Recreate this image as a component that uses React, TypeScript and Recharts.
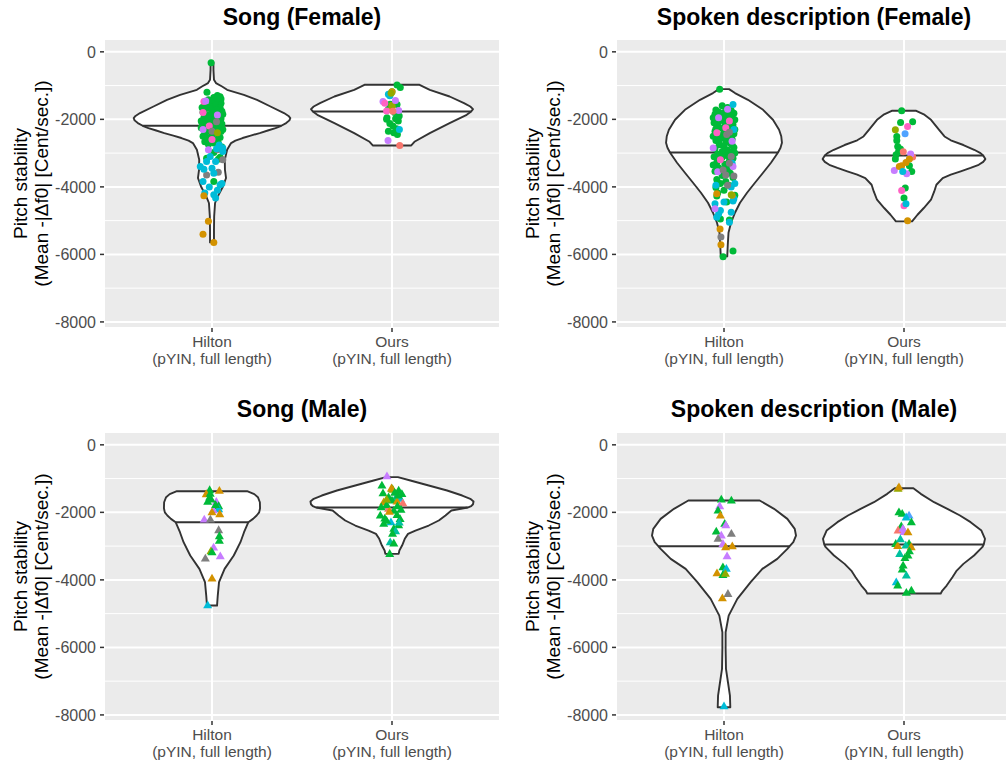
import React from "react";
import { ComposedChart, Area, Line, Scatter, XAxis, YAxis, CartesianGrid } from "recharts";

// ---------- axes / categories ----------
const CATEGORIES = ["Hilton", "Ours"];
const CATEGORY_NOTE = "(pYIN, full length)";
const CATEGORY_POS = [1, 2];
const Y_TICKS = [0, -2000, -4000, -6000, -8000];
const Y_MINOR = [-1000, -3000, -5000, -7000];
const Y_DOMAIN: [number, number] = [-8180, 380];
const X_DOMAIN: [number, number] = [0.4, 2.6];
const PANEL_TITLES = ["Song (Female)", "Spoken description (Female)", "Song (Male)", "Spoken description (Male)"];
const Y_TITLE_1 = "Pitch stability";
const Y_TITLE_2 = "(Mean -|\u0394f0| [Cent/sec.])";

// colour groups (ggplot hue palette + grey)
const PALETTE = ["#F8766D", "#D39200", "#93AA00", "#00BA38", "#00C19F", "#00BCD8", "#4FA3FF", "#C77CFF", "#FF61C3", "#7F7F7F"];

// ---------- violin outlines: [value, half width] ----------
const songFemaleHiltonViolin: [number, number][] = [
  [-317, 0.008], [-533, 0.008], [-829, 0.011], [-926, 0.022], [-1027, 0.056], [-1125, 0.084], [-1273, 0.177],
  [-1421, 0.25], [-1619, 0.325], [-1814, 0.4], [-1900, 0.425], [-1962, 0.435], [-2030, 0.43], [-2110, 0.412],
  [-2190, 0.385], [-2258, 0.353], [-2330, 0.31], [-2406, 0.265], [-2480, 0.215], [-2553, 0.17], [-2630, 0.13],
  [-2702, 0.106], [-2901, 0.084], [-3197, 0.071], [-3493, 0.072], [-3738, 0.078], [-3987, 0.061], [-4283, 0.032],
  [-4478, 0.017], [-4875, 0.012], [-5269, 0.011], [-5645, 0.011],
];
const songFemaleOursViolin: [number, number][] = [
  [-977, 0.153], [-1125, 0.21], [-1323, 0.32], [-1518, 0.4], [-1620, 0.435], [-1696, 0.45], [-1767, 0.44],
  [-1865, 0.415], [-2110, 0.32], [-2406, 0.21], [-2655, 0.127], [-2774, 0.107],
];
const spokenFemaleHiltonViolin: [number, number][] = [
  [-1104, 0.028], [-1222, 0.061], [-1421, 0.133], [-1717, 0.217], [-2013, 0.272], [-2309, 0.306], [-2500, 0.318],
  [-2694, 0.322], [-2840, 0.314], [-2981, 0.3], [-3286, 0.261], [-3582, 0.217], [-3878, 0.172], [-4174, 0.128],
  [-4470, 0.089], [-4766, 0.061], [-5062, 0.039], [-5358, 0.025], [-5713, 0.021], [-6059, 0.018],
];
const spokenFemaleOursViolin: [number, number][] = [
  [-1746, 0.068], [-1850, 0.11], [-2013, 0.15], [-2309, 0.195], [-2507, 0.225], [-2620, 0.26], [-2760, 0.33],
  [-2901, 0.39], [-3000, 0.425], [-3069, 0.44], [-3176, 0.452], [-3260, 0.44], [-3345, 0.415], [-3440, 0.37],
  [-3543, 0.315], [-3640, 0.26], [-3738, 0.215], [-3937, 0.18], [-4135, 0.168], [-4381, 0.15], [-4626, 0.11],
  [-4825, 0.075], [-5023, 0.045],
];
const songMaleHiltonViolin: [number, number][] = [
  [-1373, 0.195], [-1460, 0.235], [-1551, 0.255], [-1700, 0.266], [-1877, 0.267], [-2000, 0.262], [-2094, 0.248],
  [-2193, 0.228], [-2291, 0.202], [-2588, 0.178], [-2884, 0.158], [-3279, 0.121], [-3674, 0.07], [-4069, 0.039],
  [-4464, 0.032], [-4761, 0.028],
];
const songMaleOursViolin: [number, number][] = [
  [-958, 0.033], [-1057, 0.102], [-1205, 0.204], [-1353, 0.306], [-1501, 0.39], [-1600, 0.435], [-1679, 0.453],
  [-1760, 0.45], [-1817, 0.44], [-1857, 0.42], [-1946, 0.33], [-2094, 0.297], [-2242, 0.26], [-2390, 0.204],
  [-2538, 0.13], [-2637, 0.089], [-2785, 0.071], [-2983, 0.056], [-3131, 0.041], [-3230, 0.037],
];
const spokenMaleHiltonViolin: [number, number][] = [
  [-1649, 0.198], [-1896, 0.278], [-2193, 0.352], [-2489, 0.393], [-2687, 0.4], [-2884, 0.385], [-3003, 0.365],
  [-3082, 0.352], [-3378, 0.296], [-3674, 0.213], [-4069, 0.148], [-4563, 0.074], [-5057, 0.026], [-5551, 0.009],
  [-6045, 0.009], [-6637, 0.011], [-7032, 0.022], [-7428, 0.033], [-7773, 0.035],
];
const spokenMaleOursViolin: [number, number][] = [
  [-1284, 0.052], [-1452, 0.093], [-1699, 0.167], [-1896, 0.241], [-2094, 0.311], [-2291, 0.37], [-2538, 0.43],
  [-2785, 0.45], [-2953, 0.443], [-3032, 0.435], [-3279, 0.389], [-3526, 0.33], [-3724, 0.293], [-3921, 0.269],
  [-4168, 0.237], [-4316, 0.213], [-4405, 0.204],
];

// ---------- medians: [value, half width] ----------
const songFemaleMedians: [number, number][] = [[-2190, 0.385], [-1767, 0.44]];
const spokenFemaleMedians: [number, number][] = [[-2981, 0.3], [-3069, 0.44]];
const songMaleMedians: [number, number][] = [[-2291, 0.202], [-1857, 0.42]];
const spokenMaleMedians: [number, number][] = [[-3003, 0.365], [-2953, 0.443]];

// ---------- points: [jitter, value, colour group] ----------
const songFemaleHiltonPoints: [number, number, number][] = [
  [-0.005, -320, 3], [-0.028, -1200, 3], [0.03, -1290, 3], [0.045, -1330, 3], [0.01, -1350, 3], [0.05, -1400, 3],
  [-0.02, -1420, 3], [0.035, -1460, 3], [0.0, -1480, 3], [0.05, -1520, 3], [-0.04, -1550, 3], [0.02, -1580, 3],
  [-0.01, -1620, 3], [0.045, -1650, 3], [-0.03, -1680, 3], [0.025, -1720, 3], [0.055, -1760, 3], [-0.05, -1790, 3],
  [0.005, -1820, 3], [0.04, -1860, 3], [-0.02, -1880, 3], [0.015, -1920, 3], [-0.045, -1950, 3], [0.05, -1980, 3],
  [0.0, -2010, 3], [-0.03, -2050, 3], [0.03, -2080, 3], [-0.055, -2110, 3], [0.055, -2140, 3], [0.01, -2170, 3],
  [-0.02, -2200, 3], [0.04, -2230, 3], [-0.045, -2260, 3], [0.02, -2290, 3], [-0.01, -2330, 3], [0.05, -2360, 3],
  [-0.035, -2400, 3], [0.03, -2430, 3], [0.0, -2470, 3], [-0.05, -2500, 3], [0.045, -2540, 3], [-0.015, -2580, 3],
  [0.02, -2620, 3], [-0.04, -2660, 3], [0.035, -2700, 3], [-0.02, -2740, 3], [0.055, -2820, 3], [0.01, -2980, 3],
  [0.045, -3120, 3], [0.035, -3180, 3], [0.01, -3840, 3], [-0.03, -3150, 3], [-0.06, -2050, 3], [-0.06, -2250, 3],
  [-0.055, -1650, 3], [0.06, -1850, 3], [0.06, -2300, 3], [-0.005, -1700, 3], [0.015, -2380, 3], [-0.025, -2550, 3],
  [0.03, -1380, 3], [-0.01, -1900, 3], [0.025, -2020, 3], [-0.04, -2350, 3], [0.01, -2700, 3],
  [-0.045, -1470, 8], [-0.05, -1800, 8], [-0.015, -2200, 8], [0.0, -2600, 8],
  [-0.035, -1460, 7], [-0.05, -2300, 7], [-0.02, -2900, 7], [0.03, -1870, 7],
  [0.025, -2070, 9], [0.0, -2350, 9], [0.03, -2900, 9], [-0.03, -3650, 9], [0.035, -3570, 9], [0.06, -3200, 9],
  [0.04, -2760, 5], [0.025, -2870, 5], [0.06, -2950, 5], [-0.01, -3100, 5], [0.02, -3250, 5], [-0.03, -3250, 5],
  [-0.065, -3400, 5], [-0.045, -3480, 5], [0.0, -3450, 5], [0.01, -3600, 5], [-0.05, -3840, 5], [0.045, -3940, 5],
  [0.055, -3900, 5], [-0.04, -4180, 5], [0.01, -4230, 5], [0.02, -4330, 5], [-0.015, -4000, 5], [0.03, -4100, 5],
  [0.06, -2850, 5],
  [-0.045, -4260, 1], [-0.02, -5020, 1], [-0.05, -5400, 1], [0.01, -5645, 1],
  [0.03, -2400, 2],
];
const songFemaleOursPoints: [number, number, number][] = [
  [0.028, -980, 3], [0.046, -1060, 3], [0.0, -1180, 3], [-0.01, -1550, 3], [0.028, -1560, 3], [-0.02, -1700, 3],
  [0.015, -1800, 3], [-0.028, -1950, 3], [0.02, -1980, 3], [0.035, -2050, 3], [-0.012, -2120, 3], [0.005, -2200, 3],
  [0.025, -2280, 3], [-0.02, -2350, 3], [0.01, -2400, 3], [0.03, -2450, 3], [-0.03, -2000, 3], [0.04, -1900, 3],
  [-0.02, -1260, 5], [-0.012, -1300, 5], [0.041, -2300, 5],
  [0.0, -1180, 1], [0.0, -1650, 1],
  [-0.005, -1230, 2], [0.0, -1580, 2],
  [-0.05, -1470, 7], [0.019, -1440, 7], [0.037, -1740, 7], [-0.022, -2630, 7],
  [-0.03, -1750, 8], [-0.04, -1520, 8],
  [0.043, -2775, 0], [0.005, -1760, 0],
];
const spokenFemaleHiltonPoints: [number, number, number][] = [
  [-0.024, -1110, 3], [-0.01, -1600, 3], [0.02, -1650, 3], [-0.045, -1720, 3], [0.04, -1740, 3], [-0.03, -1780, 3],
  [0.0, -1800, 3], [0.055, -1820, 3], [-0.05, -1850, 3], [0.025, -1880, 3], [-0.015, -1900, 3], [0.045, -1930, 3],
  [-0.04, -1960, 3], [0.01, -1990, 3], [0.06, -2010, 3], [-0.025, -2040, 3], [0.03, -2070, 3], [-0.055, -2100, 3],
  [0.005, -2130, 3], [0.05, -2160, 3], [-0.035, -2190, 3], [0.02, -2220, 3], [-0.01, -2260, 3], [0.04, -2300, 3],
  [-0.05, -2350, 3], [0.0, -2390, 3], [0.055, -2430, 3], [-0.03, -2470, 3], [0.025, -2510, 3], [-0.015, -2550, 3],
  [0.045, -2590, 3], [-0.045, -2630, 3], [0.01, -2670, 3], [0.035, -2710, 3], [-0.025, -2750, 3], [0.0, -2790, 3],
  [0.055, -2830, 3], [-0.05, -2870, 3], [0.02, -2910, 3], [-0.01, -2950, 3], [0.04, -2990, 3], [-0.035, -3030, 3],
  [0.015, -3070, 3], [-0.055, -3110, 3], [0.05, -3150, 3], [-0.02, -3190, 3], [0.03, -3230, 3], [-0.04, -3280, 3],
  [0.005, -3330, 3], [0.045, -3380, 3], [-0.03, -3430, 3], [0.02, -3480, 3], [-0.05, -3540, 3], [0.035, -3600, 3],
  [-0.01, -3660, 3], [0.05, -3720, 3], [-0.04, -3780, 3], [0.01, -3840, 3], [-0.02, -3900, 3], [0.03, -3960, 3],
  [-0.045, -4020, 3], [0.0, -4100, 3], [-0.035, -4180, 3], [-0.04, -4270, 3], [0.015, -4450, 3], [0.06, -4250, 3],
  [-0.02, -4950, 3], [0.03, -4980, 3], [0.05, -5900, 3], [-0.005, -6070, 3], [-0.06, -2500, 3], [0.06, -3000, 3],
  [-0.06, -1950, 3], [0.06, -2300, 3], [-0.06, -3350, 3], [0.02, -1760, 3], [-0.02, -2000, 3], [0.035, -2120, 3],
  [-0.045, -2280, 3], [0.015, -2560, 3], [-0.03, -2680, 3], [0.045, -2760, 3], [-0.01, -3120, 3], [0.025, -3390, 3],
  [0.05, -1560, 5], [0.055, -2300, 5], [0.045, -3300, 5], [0.06, -3900, 5], [-0.045, -3950, 5], [0.04, -4000, 5],
  [-0.05, -4500, 5], [0.055, -4350, 5], [0.05, -4420, 5], [-0.02, -4700, 5], [0.04, -4750, 5], [-0.04, -4900, 5],
  [0.03, -5050, 5], [0.0, -4450, 5], [-0.03, -4800, 5],
  [-0.03, -1950, 7], [0.045, -2650, 7], [-0.06, -2850, 7], [-0.035, -3550, 7], [0.05, -3400, 7], [-0.05, -4650, 7],
  [0.02, -1700, 7],
  [-0.04, -2400, 8], [0.01, -2250, 8], [-0.02, -3200, 8], [0.03, -2050, 8],
  [0.015, -2450, 9], [0.03, -2380, 9], [0.04, -3100, 9], [-0.005, -3500, 9], [0.01, -3650, 9], [0.055, -3680, 9],
  [0.02, -3950, 9], [-0.017, -5485, 9], [0.03, -3300, 9],
  [0.045, -4250, 1], [-0.022, -5248, 1], [-0.017, -5713, 1], [-0.04, -4200, 1],
  [0.04, -4230, 2],
];
const spokenFemaleOursPoints: [number, number, number][] = [
  [-0.013, -1746, 3], [-0.019, -2092, 3], [0.048, -2072, 3], [-0.04, -2506, 3], [-0.04, -2625, 3], [-0.035, -2803, 3],
  [-0.03, -2950, 3], [-0.044, -3049, 3], [-0.048, -3177, 3], [0.03, -3374, 3], [0.043, -3543, 3], [0.007, -4036, 3],
  [0.0, -4331, 3], [-0.02, -2880, 3],
  [0.02, -2210, 8], [-0.013, -4106, 8], [0.0, -4558, 8],
  [-0.048, -2309, 2],
  [0.006, -2427, 6],
  [-0.004, -2960, 0], [0.048, -3118, 0],
  [0.037, -3029, 7], [-0.054, -3513, 7], [0.015, -3611, 7],
  [0.03, -3177, 1], [0.011, -3275, 1], [-0.013, -3374, 1], [-0.026, -3400, 1], [0.02, -5002, 1],
  [-0.007, -3543, 5], [0.011, -4500, 5],
];
const songMaleHiltonPoints: [number, number, number][] = [
  [-0.013, -1342, 3], [0.041, -1363, 1], [-0.032, -1461, 1], [-0.013, -1560, 3], [-0.024, -1689, 3], [0.024, -1689, 7],
  [-0.005, -1620, 3], [0.037, -1816, 3], [0.037, -1905, 5], [0.007, -1935, 7], [0.043, -2053, 1], [0.0, -2000, 1],
  [-0.043, -2211, 7], [-0.009, -2211, 9], [0.037, -2527, 9], [0.041, -2705, 3], [0.041, -2844, 3], [0.009, -3040, 7],
  [-0.006, -3150, 2], [0.0, -3180, 3], [-0.037, -3366, 9], [0.046, -3298, 7], [0.0, -3959, 1], [-0.024, -4750, 5],
  [0.02, -1780, 3], [-0.01, -1450, 3],
];
const songMaleOursPoints: [number, number, number][] = [
  [-0.028, -930, 7], [-0.056, -1205, 3], [0.0, -1304, 3], [0.005, -1330, 2], [-0.003, -1290, 1], [0.037, -1353, 3],
  [-0.05, -1432, 3], [-0.019, -1551, 3], [0.02, -1580, 4], [0.046, -1600, 5], [-0.046, -1700, 1], [0.0, -1650, 3],
  [0.028, -1680, 1], [0.06, -1730, 0], [-0.019, -1896, 0], [-0.06, -1850, 3], [-0.03, -1780, 3], [0.03, -1820, 3],
  [0.01, -1950, 3], [0.05, -1920, 3], [-0.065, -2094, 3], [0.028, -2080, 3], [-0.04, -2180, 3], [0.045, -2200, 3],
  [-0.006, -2291, 5], [-0.046, -2340, 3], [0.037, -2380, 3], [0.01, -2489, 3], [0.02, -2560, 4], [0.003, -2637, 3],
  [-0.01, -2884, 4], [0.01, -2920, 3], [-0.013, -3230, 3], [0.035, -1500, 3], [-0.03, -1620, 2], [0.015, -1420, 3],
  [0.055, -1460, 3], [-0.015, -1980, 1], [0.04, -2300, 4], [-0.03, -2250, 3],
];
const spokenMaleHiltonPoints: [number, number, number][] = [
  [-0.015, -1620, 3], [0.041, -1649, 3], [-0.024, -1817, 7], [-0.033, -1946, 3], [-0.02, -2094, 1], [0.004, -2341, 3],
  [0.01, -2380, 7], [-0.043, -2568, 3], [-0.015, -2687, 7], [-0.033, -2785, 9], [-0.006, -2934, 7], [0.041, -2637, 9],
  [0.009, -3032, 1], [0.046, -3003, 1], [0.017, -3299, 7], [-0.006, -3625, 3], [0.013, -3674, 5], [-0.039, -3803, 1],
  [-0.006, -3852, 3], [0.008, -3820, 2], [0.022, -4415, 9], [-0.009, -4543, 1], [0.0, -7744, 5],
];
const spokenMaleOursPoints: [number, number, number][] = [
  [-0.033, -1304, 2], [-0.028, -1260, 1], [-0.028, -1995, 3], [-0.01, -2040, 3], [0.028, -2094, 6], [0.012, -2150, 5],
  [0.041, -2291, 3], [-0.015, -2410, 3], [-0.033, -2538, 0], [-0.006, -2489, 7], [0.0, -2580, 7], [0.022, -2588, 1],
  [-0.046, -2934, 3], [-0.035, -3000, 1], [0.028, -2934, 3], [0.01, -2980, 4], [0.04, -3030, 1], [-0.024, -3230, 4],
  [0.022, -3279, 3], [0.005, -3350, 3], [-0.005, -3575, 3], [-0.01, -3694, 3], [0.013, -3872, 4], [-0.043, -4069, 5],
  [-0.035, -4168, 3], [0.013, -4385, 3], [0.041, -4316, 3], [0.03, -3150, 3], [-0.02, -2800, 4],
];

// ---------- builders ----------
function violinRows(center: number, outline: [number, number][]) {
  const top = outline[0][0];
  const bottom = outline[outline.length - 1][0];
  return [
    { y: top, r: [center, center] },
    ...outline.map(([v, w]) => ({ y: v, r: [center - w, center + w] })),
    { y: bottom, r: [center, center] },
  ];
}
function medianRows(center: number, m: [number, number]) {
  return [
    { x: center - m[1], y: m[0] },
    { x: center + m[1], y: m[0] },
  ];
}
function pointRows(center: number, pts: [number, number, number][]) {
  return pts.map(([j, v, c]) => ({ x: center + j, y: v, c }));
}

const XTick = (props: any) => {
  const { x, y, payload } = props;
  const label = CATEGORIES[CATEGORY_POS.indexOf(payload.value)];
  return (
    <g>
      <text x={x} y={y + 15} textAnchor="middle" fill="#4D4D4D" fontSize={15.5}>{label}</text>
      <text x={x} y={y + 32} textAnchor="middle" fill="#4D4D4D" fontSize={15.5}>{CATEGORY_NOTE}</text>
    </g>
  );
};

const YTick = (props: any) => {
  const { x, y, payload } = props;
  return (
    <text x={x} y={y} dy="0.36em" textAnchor="end" fill="#4D4D4D" fontSize={16}>
      {String(payload.value)}
    </text>
  );
};

const Dot = (props: any) => {
  const { cx, cy, payload } = props;
  if (cx == null || cy == null) return null;
  return <circle cx={cx} cy={cy} r={3.5} fill={PALETTE[payload.c]} />;
};
const Tri = (props: any) => {
  const { cx, cy, payload } = props;
  if (cx == null || cy == null) return null;
  return (
    <polygon
      points={`${cx},${cy - 4.8} ${cx + 4.5},${cy + 3} ${cx - 4.5},${cy + 3}`}
      fill={PALETTE[payload.c]}
    />
  );
};

type PanelProps = {
  left: number;
  top: number;
  width: number;
  height: number;
  marginTop: number;
  xAxisHeight: number;
  marginBottom: number;
  yAxisWidth: number;
  titleBaseline: number;
  title: string;
  violins: [number, number][][];
  medians: [number, number][];
  points: [number, number, number][][];
  triangle: boolean;
};

function Panel(p: PanelProps) {
  const plotTop = p.marginTop;
  const plotBottom = p.height - p.marginBottom - p.xAxisHeight;
  const plotCenterY = (plotTop + plotBottom) / 2;
  const plotCenterX = (p.yAxisWidth + p.width) / 2;
  return (
    <div style={{ position: "absolute", left: p.left, top: p.top, width: p.width, height: p.height }}>
      <ComposedChart
        layout="vertical"
        width={p.width}
        height={p.height}
        margin={{ top: p.marginTop, right: 0, bottom: p.marginBottom, left: 0 }}
      >
        <CartesianGrid
          fill="#EBEBEB"
          fillOpacity={1}
          stroke="#FFFFFF"
          strokeWidth={1}
          vertical={false}
          horizontalValues={Y_MINOR}
        />
        <CartesianGrid stroke="#FFFFFF" strokeWidth={2} />
        <XAxis
          type="number"
          dataKey="x"
          domain={X_DOMAIN}
          ticks={CATEGORY_POS}
          allowDataOverflow
          axisLine={false}
          tickSize={4}
          tickMargin={0}
          tickLine={{ stroke: "#333333", strokeWidth: 1.5 }}
          tick={<XTick />}
          height={p.xAxisHeight}
          interval={0}
        />
        <YAxis
          type="number"
          dataKey="y"
          domain={Y_DOMAIN}
          ticks={Y_TICKS}
          reversed
          allowDataOverflow
          axisLine={false}
          tickSize={4}
          tickMargin={4}
          width={p.yAxisWidth}
          tick={<YTick />}
          tickLine={{ stroke: "#333333", strokeWidth: 1.5 }}
          interval={0}
        />
        {p.violins.map((v, i) => (
          <Area
            key={"v" + i}
            data={violinRows(CATEGORY_POS[i], v)}
            dataKey="r"
            type="linear"
            stroke="#333333"
            strokeWidth={1.9}
            strokeLinejoin="round"
            fill="#FFFFFF"
            fillOpacity={1}
            dot={false}
            activeDot={false}
            isAnimationActive={false}
          />
        ))}
        {p.medians.map((m, i) => (
          <Line
            key={"m" + i}
            data={medianRows(CATEGORY_POS[i], m)}
            dataKey="x"
            type="linear"
            stroke="#333333"
            strokeWidth={1.9}
            dot={false}
            activeDot={false}
            isAnimationActive={false}
          />
        ))}
        {p.points.map((pts, i) => (
          <Scatter
            key={"p" + i}
            data={pointRows(CATEGORY_POS[i], pts)}
            dataKey="y"
            shape={p.triangle ? <Tri /> : <Dot />}
            isAnimationActive={false}
          />
        ))}
      </ComposedChart>
      <svg
        width={p.width}
        height={p.height}
        style={{ position: "absolute", left: 0, top: 0, pointerEvents: "none" }}
      >
        <text x={plotCenterX} y={p.titleBaseline} textAnchor="middle" fontSize={23} fontWeight="bold" fill="#000000">
          {p.title}
        </text>
        <text
          transform={`translate(${p.yAxisWidth - 77.5}, ${plotCenterY}) rotate(-90)`}
          textAnchor="middle"
          fontSize={19}
          fill="#000000"
        >
          {Y_TITLE_1}
        </text>
        <text
          transform={`translate(${p.yAxisWidth - 56.5}, ${plotCenterY}) rotate(-90)`}
          textAnchor="middle"
          fontSize={19}
          fill="#000000"
        >
          {Y_TITLE_2}
        </text>
      </svg>
    </div>
  );
}

export default function App() {
  return (
    <div
      style={{
        position: "absolute",
        left: 0,
        top: 0,
        width: 1006,
        height: 764,
        overflow: "hidden",
        background: "#FFFFFF",
        fontFamily: "'Liberation Sans', Arial, sans-serif",
      }}
    >
      <Panel
        left={0} top={0} width={500} height={382} marginTop={39} xAxisHeight={45} marginBottom={9}
        yAxisWidth={104} titleBaseline={25} title={PANEL_TITLES[0]}
        violins={[songFemaleHiltonViolin, songFemaleOursViolin]}
        medians={songFemaleMedians}
        points={[songFemaleHiltonPoints, songFemaleOursPoints]}
        triangle={false}
      />
      <Panel
        left={503} top={0} width={509} height={382} marginTop={39} xAxisHeight={45} marginBottom={9}
        yAxisWidth={113} titleBaseline={25} title={PANEL_TITLES[1]}
        violins={[spokenFemaleHiltonViolin, spokenFemaleOursViolin]}
        medians={spokenFemaleMedians}
        points={[spokenFemaleHiltonPoints, spokenFemaleOursPoints]}
        triangle={false}
      />
      <Panel
        left={0} top={382} width={500} height={382} marginTop={50} xAxisHeight={39} marginBottom={4}
        yAxisWidth={104} titleBaseline={35} title={PANEL_TITLES[2]}
        violins={[songMaleHiltonViolin, songMaleOursViolin]}
        medians={songMaleMedians}
        points={[songMaleHiltonPoints, songMaleOursPoints]}
        triangle={true}
      />
      <Panel
        left={503} top={382} width={509} height={382} marginTop={50} xAxisHeight={39} marginBottom={4}
        yAxisWidth={113} titleBaseline={35} title={PANEL_TITLES[3]}
        violins={[spokenMaleHiltonViolin, spokenMaleOursViolin]}
        medians={spokenMaleMedians}
        points={[spokenMaleHiltonPoints, spokenMaleOursPoints]}
        triangle={true}
      />
    </div>
  );
}
